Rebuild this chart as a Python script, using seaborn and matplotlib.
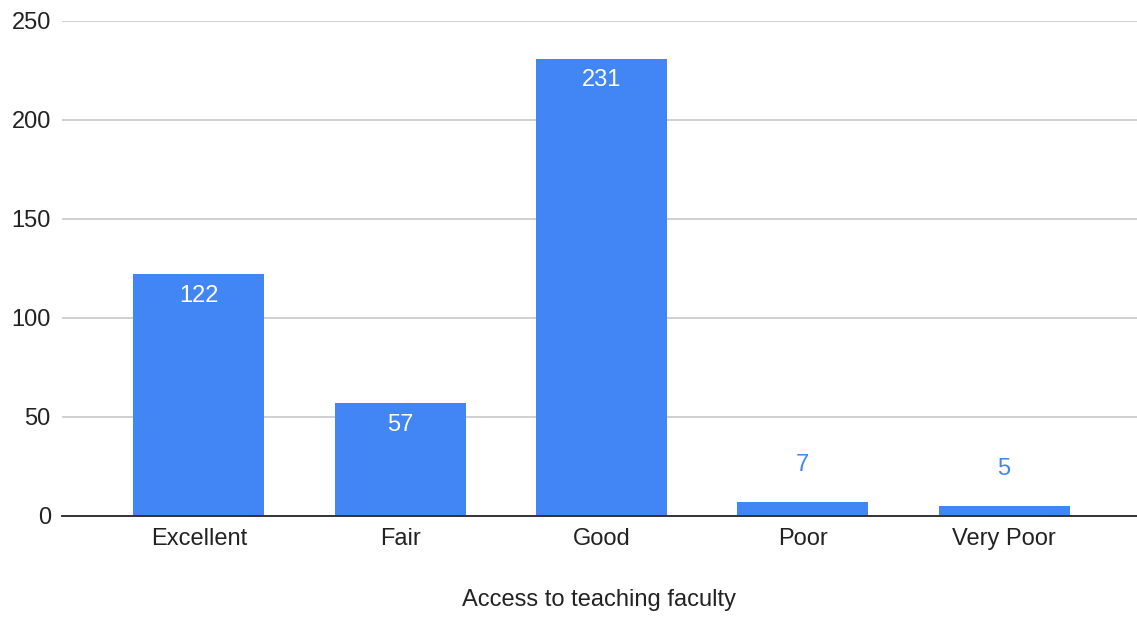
import pandas as pd
import matplotlib.pyplot as plt
import seaborn as sns

categories = ['Excellent', 'Fair', 'Good', 'Poor', 'Very Poor']
counts = [122, 57, 231, 7, 5]
y_ticks = [0, 50, 100, 150, 200, 250]

BLUE = '#4285F4'

sns.set_theme(style='whitegrid')
plt.rcParams['font.family'] = ['Liberation Sans', 'DejaVu Sans']

df = pd.DataFrame({'category': categories, 'count': counts})

fig = plt.figure(figsize=(11.37, 6.17), dpi=100)
ax = fig.add_axes([0.0545, 0.1637, 0.9455, 0.8023])
sns.barplot(data=df, x='category', y='count', color=BLUE, saturation=1, width=0.65,
            edgecolor=BLUE, linewidth=0, ax=ax)

ax.set_ylim(0, 250)
ax.set_yticks(y_ticks)
ax.set_xlim(-0.68, 4.66)
ax.grid(axis='y', color='#c8c8c8', linewidth=1.2)
ax.grid(axis='x', visible=False)
ax.set_axisbelow(True)
sns.despine(ax=ax, left=True, right=True, top=True)
ax.spines['bottom'].set_color('#333333')
ax.spines['bottom'].set_linewidth(1.4)
ax.set_facecolor('white')

ax.tick_params(axis='y', length=0, pad=8, labelsize=17, labelcolor='#222222')
ax.tick_params(axis='x', length=0, pad=9, labelsize=17, labelcolor='#222222')
ax.set_ylabel('')
ax.set_xlabel('Access to teaching faculty', fontsize=17, color='#222222', labelpad=28)

# value labels: inside the bar when it fits, otherwise above it in blue
for bar, val in zip(ax.patches, counts):
    cx = bar.get_x() + bar.get_width() / 2
    top = bar.get_height()
    if val > 20:
        ax.annotate(str(val), (cx, top), xytext=(0, -15.5), textcoords='offset points',
                    ha='center', va='center', fontsize=17, color='white')
    else:
        ax.annotate(str(val), (cx, top), xytext=(0, 27), textcoords='offset points',
                    ha='center', va='center', fontsize=17, color=BLUE)

fig.savefig('out.png', dpi=100, facecolor='white')
